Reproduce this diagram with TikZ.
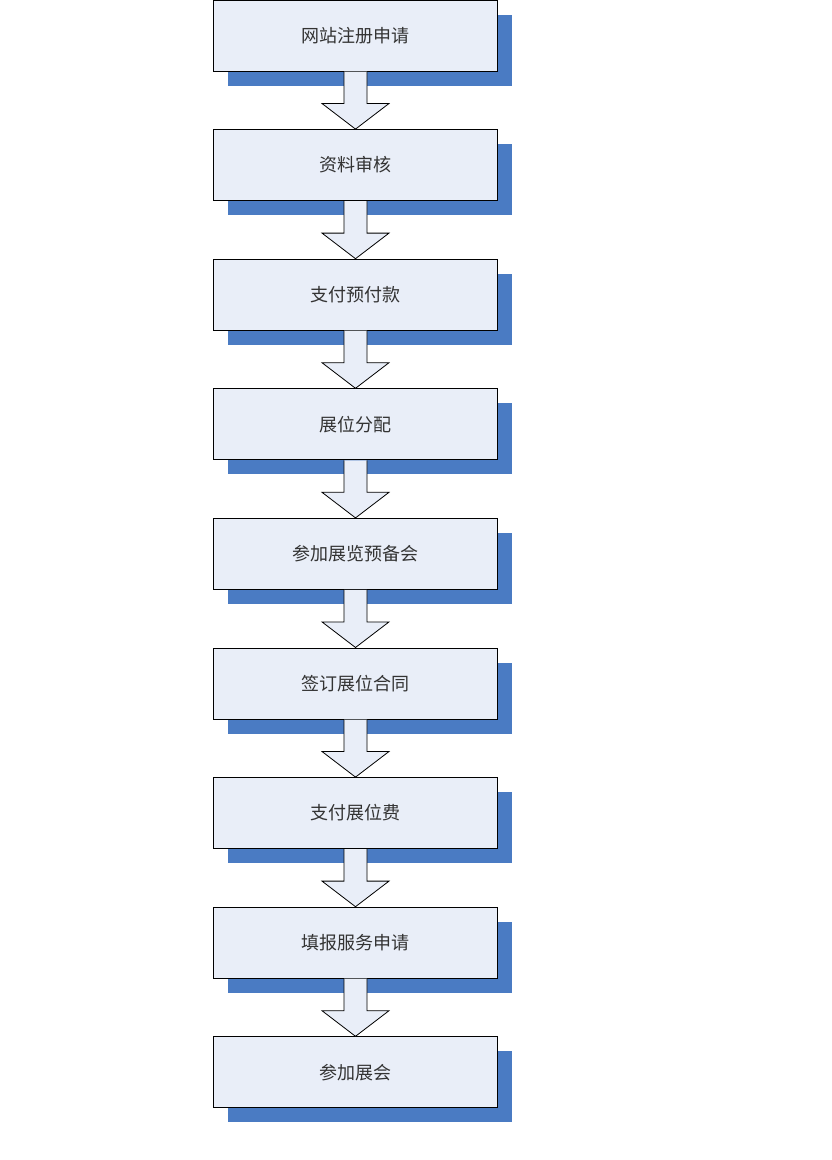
\documentclass[tikz,border=0pt]{standalone}
\usepackage{fontspec}
\newfontfamily\cjk{Noto Sans CJK SC}
\usetikzlibrary{calc,shadows}
\definecolor{boxfill}{HTML}{E9EEF8}
\definecolor{shadowblue}{HTML}{4A7BC3}
\definecolor{txt}{HTML}{333333}
\begin{document}
\begin{tikzpicture}[x=1pt,y=-1pt,
  stepbox/.style={draw=black, line width=1pt, fill=boxfill,
    minimum width=284pt, minimum height=71pt, inner sep=0pt,
    font=\cjk\fontsize{18}{18}\selectfont, text=txt,
    drop shadow={shadow xshift=14pt, shadow yshift=-14.5pt, fill=shadowblue, opacity=1}},
  blockarrow/.style={draw=black, line width=0.8pt, fill=boxfill, line join=miter}]
\fill[white] (0,0) rectangle (831,1160);
\useasboundingbox (0,0) rectangle (831,1160);
\node[stepbox] (n1) at (355.5, 35.5) {网站注册申请};
\node[stepbox] (n2) at (355.5, 165.1) {资料审核};
\node[stepbox] (n3) at (355.5, 294.7) {支付预付款};
\node[stepbox] (n4) at (355.5, 424.3) {展位分配};
\node[stepbox] (n5) at (355.5, 553.9) {参加展览预备会};
\node[stepbox] (n6) at (355.5, 683.5) {签订展位合同};
\node[stepbox] (n7) at (355.5, 813.1) {支付展位费};
\node[stepbox] (n8) at (355.5, 942.7) {填报服务申请};
\node[stepbox] (n9) at (355.5, 1072.3) {参加展会};
\foreach \a/\b in {n1/n2,n2/n3,n3/n4,n4/n5,n5/n6,n6/n7,n7/n8,n8/n9}{
  \draw[blockarrow] ($(\a.south)+(-11.5,0)$) -- ($(\a.south)+(-11.5,32)$)
    -- ($(\a.south)+(-33.5,32)$) -- (\b.north) -- ($(\a.south)+(33.5,32)$)
    -- ($(\a.south)+(11.5,32)$) -- ($(\a.south)+(11.5,0)$);
}
\end{tikzpicture}
\end{document}
